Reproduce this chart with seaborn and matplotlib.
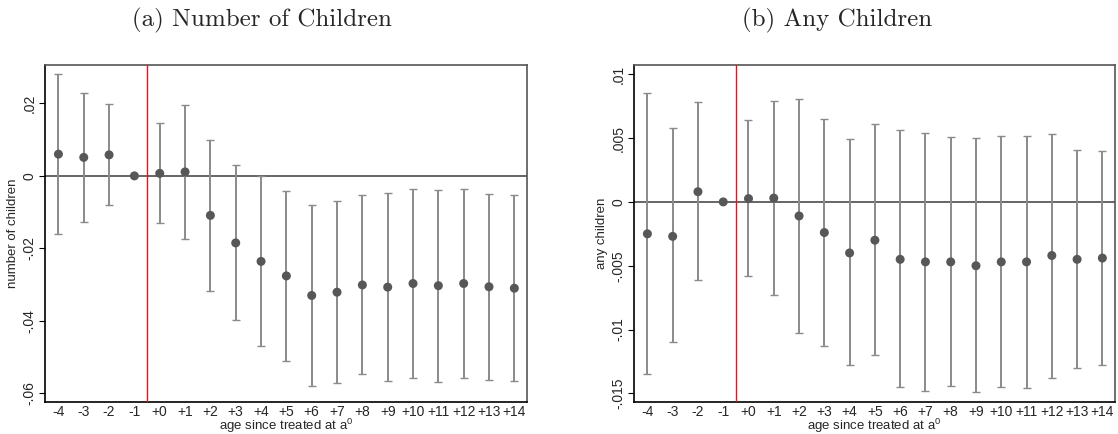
import numpy as np
import pandas as pd
import seaborn as sns
import matplotlib.pyplot as plt

sns.set_style("white")
plt.rcParams["font.family"] = ["Liberation Sans", "DejaVu Sans"]
plt.rcParams["mathtext.fontset"] = "custom"
plt.rcParams["mathtext.rm"] = "Liberation Sans"
plt.rcParams["mathtext.it"] = "Liberation Sans"

# Event time labels
ages = ["-4", "-3", "-2", "-1", "+0", "+1", "+2", "+3", "+4", "+5", "+6",
        "+7", "+8", "+9", "+10", "+11", "+12", "+13", "+14"]

# Panel (a): number of children
num_coef = [0.0060, 0.0051, 0.0058, 0.0, 0.0007, 0.0011, -0.0109, -0.0185,
            -0.0236, -0.0276, -0.0330, -0.0321, -0.0301, -0.0307, -0.0297,
            -0.0303, -0.0297, -0.0306, -0.0310]
num_hi = [0.0280, 0.0229, 0.0199, 0.0, 0.0145, 0.0196, 0.0098, 0.0030,
          0.0000, -0.0041, -0.0080, -0.0069, -0.0052, -0.0047, -0.0035,
          -0.0038, -0.0036, -0.0050, -0.0052]
num_lo = [-0.0159, -0.0127, -0.0081, 0.0, -0.0131, -0.0174, -0.0317, -0.0398,
          -0.0469, -0.0510, -0.0579, -0.0572, -0.0546, -0.0567, -0.0557,
          -0.0569, -0.0559, -0.0562, -0.0567]

# Panel (b): any children
any_coef = [-0.0025, -0.0027, 0.0008, 0.0, 0.00026, 0.0003, -0.0011, -0.0024,
            -0.0040, -0.0030, -0.0045, -0.0047, -0.0047, -0.0050, -0.0047,
            -0.0047, -0.0042, -0.0045, -0.0044]
any_hi = [0.0085, 0.0058, 0.0078, 0.0, 0.0064, 0.0079, 0.0081, 0.0065,
          0.0049, 0.0061, 0.0056, 0.0054, 0.0051, 0.0050, 0.0052, 0.0052,
          0.0053, 0.0041, 0.0040]
any_lo = [-0.0135, -0.0110, -0.0061, 0.0, -0.0058, -0.0073, -0.0103, -0.0113,
          -0.0128, -0.0120, -0.0145, -0.0148, -0.0144, -0.0149, -0.0145,
          -0.0146, -0.0138, -0.0130, -0.0128]

num_ticks = [0.02, 0.0, -0.02, -0.04, -0.06]
num_ticklabels = [".02", "0", "-.02", "-.04", "-.06"]
any_ticks = [0.01, 0.005, 0.0, -0.005, -0.01, -0.015]
any_ticklabels = [".01", ".005", "0", "-.005", "-.01", "-.015"]

point_color = "#575757"
bar_color = "#8a8a8a"


def event_panel(ax, coef, lo, hi, ylim, yticks, yticklabels, ylabel):
    df = pd.DataFrame({"age": ages, "coef": coef, "lo": lo, "hi": hi})
    df["pos"] = np.arange(len(df))
    ci = df[df["age"] != "-1"]
    ax.errorbar(ci["pos"], ci["coef"],
                yerr=[ci["coef"] - ci["lo"], ci["hi"] - ci["coef"]],
                fmt="none", ecolor=bar_color, elinewidth=1.4,
                capsize=2.6, capthick=1.0, zorder=2)
    ax.axhline(0, color="#3c3c3c", lw=1.1, zorder=1)
    ax.axvline(3.5, color="#e8141c", lw=1.0, zorder=3)
    sns.scatterplot(data=df, x="pos", y="coef", ax=ax, color=point_color,
                    s=42, edgecolor="none", zorder=4, legend=False)
    ax.set_xlim(-0.53, 18.5)
    ax.set_ylim(*ylim)
    ax.set_xticks(df["pos"])
    ax.set_xticklabels(ages, fontsize=10)
    ax.set_yticks(yticks)
    ax.set_yticklabels(yticklabels, fontsize=10, rotation=90, va="center")
    ax.tick_params(axis="x", length=0, pad=2)
    ax.tick_params(axis="y", length=4, width=0.8, color="black", pad=2,
                   left=True)
    ax.set_xlabel(r"age since treated at a$^{0}$", fontsize=9.5,
                  labelpad=-1.5)
    ax.set_ylabel(ylabel, fontsize=9.5, labelpad=3)
    for side in ["left", "bottom"]:
        ax.spines[side].set_color("black")
        ax.spines[side].set_linewidth(1.2)
    for side in ["top", "right"]:
        ax.spines[side].set_color("#555555")
        ax.spines[side].set_linewidth(1.2)


fig = plt.figure(figsize=(11.18, 4.34), dpi=100)
ax_a = fig.add_axes([45 / 1118, 1 - 402 / 434, 482 / 1118, 337 / 434])
ax_b = fig.add_axes([634 / 1118, 1 - 402 / 434, 481 / 1118, 337 / 434])

event_panel(ax_a, num_coef, num_lo, num_hi, (-0.0624, 0.0306),
            num_ticks, num_ticklabels, "number of children")
event_panel(ax_b, any_coef, any_lo, any_hi, (-0.01568, 0.01073),
            any_ticks, any_ticklabels, "any children")

fig.text(262 / 1118, 1 - 20 / 434, "(a) Number of Children", ha="center",
         va="center", fontsize=18, family="cmr10")
fig.text(837 / 1118, 1 - 20 / 434, "(b) Any Children", ha="center",
         va="center", fontsize=18, family="cmr10")

fig.savefig("out.png", dpi=100)
